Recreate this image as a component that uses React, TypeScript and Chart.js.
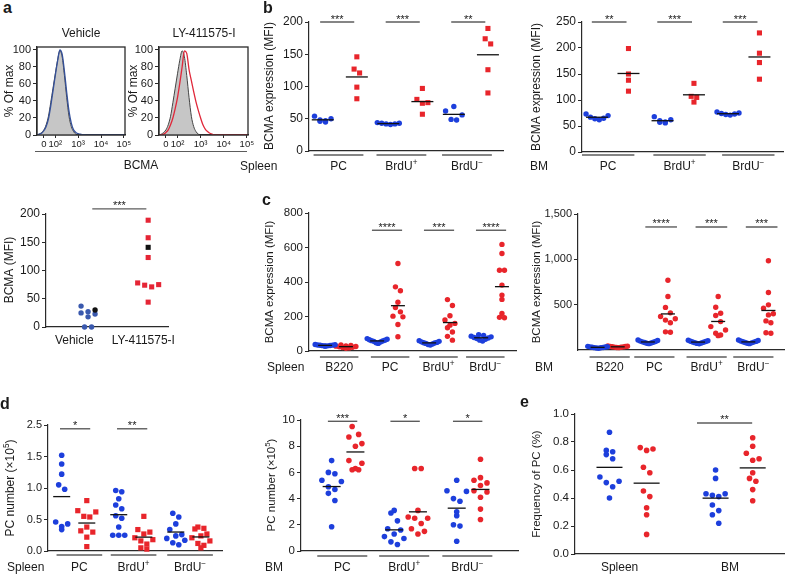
import React, { useEffect, useRef } from 'react';
import { Chart, registerables } from 'chart.js';

Chart.register(...registerables);

const FONT = '"Liberation Sans", Arial, Helvetica, sans-serif';
const BLUE = '#1d3fdc';
const RED = '#e8252b';
const A_BLUE = '#3a59ae';
const A_RED = '#e52535';
const AXIS = '#2a2a2a';
const GREY = '#5c5c5c';
const TEXT = '#1a1a1a';

// ---------------- data ----------------
// panel a — histograms (x in decades of BCMA fluorescence)
const histPos = [1.2, 1.3, 1.4, 1.5, 1.6, 1.7, 1.8, 1.9, 2.0, 2.1, 2.2, 2.3, 2.4, 2.5, 2.6, 2.7, 2.8, 2.9, 3.0, 3.1, 3.2, 3.3, 3.4, 3.5, 3.6, 5.05];
const histControl = [0, 1, 3, 6, 12, 22, 38, 55, 72, 88, 99, 92, 70, 44, 22, 10, 4, 1, 0, 0, 0, 0, 0, 0, 0, 0];
const histVehicle = [0, 1, 2, 5, 10, 19, 34, 52, 70, 87, 100, 95, 75, 50, 28, 14, 6, 3, 1.5, 1, 0.5, 0.5, 0, 0, 0, 0];
const histLY = [0, 0, 1, 3, 6, 12, 20, 31, 44, 61, 80, 99, 96, 77, 64, 51, 39, 29, 20, 12, 7, 4, 2, 1, 0, 0];
const histTickPos = [1.5, 2, 3, 4, 5];
const histTickLabels = ['0', '10²', '10³', '10⁴', '10⁵'];
const histYTicks = [0, 20, 40, 60, 80, 100];

// panel a — scatter
const aGroups = ['Vehicle', 'LY-411575-I'];
const aVehicle = [27, 37, 23, 18, 25, 0, 0];
const aVehicleBlack = [30];
const aLY = [189, 158, 123, 78, 74, 71, 75, 44];
const aLYBlack = [141];
const aYTicks = [0, 50, 100, 150, 200];
const aSig = ['***'];

// group names
const subsets3 = ['PC', 'BrdU⁺', 'BrdU⁻'];
const subsets4 = ['B220', 'PC', 'BrdU⁺', 'BrdU⁻'];

// panel b
const bSpleenBlue = [[54, 50, 48, 46, 45, 47], [44, 43, 42, 42, 43, 41], [69, 62, 56, 49, 48]];
const bSpleenRed = [[146, 121, 127, 99, 81], [97, 80, 75, 74, 57], [190, 174, 166, 126, 90]];
const bSpleenSig = ['***', '***', '**'];
const bSpleenTicks = [0, 50, 100, 150, 200];
const bBMBlue = [[73, 70, 67, 65, 62, 64], [68, 62, 58, 56, 57, 60], [77, 75, 73, 72, 71, 74]];
const bBMRed = [[199, 150, 138, 117], [132, 107, 105, 96], [229, 190, 172, 140]];
const bBMSig = ['**', '***', '***'];
const bBMTicks = [0, 50, 100, 150, 200, 250];

// panel c
const cSpleenBlue = [
  [38, 36, 35, 34, 33, 32, 31, 30, 29, 28],
  [72, 68, 65, 62, 60, 58, 56, 52, 48, 44],
  [60, 56, 53, 50, 48, 46, 44, 41, 38, 35],
  [94, 90, 86, 82, 78, 75, 72, 68, 63, 58],
];
const cSpleenRed = [
  [35, 32, 30, 28, 26, 24, 22, 20, 18, 16],
  [507, 372, 349, 283, 252, 227, 202, 198, 154, 83],
  [298, 264, 204, 180, 160, 150, 135, 110, 85, 63],
  [618, 565, 468, 468, 382, 324, 299, 218, 195, 193],
];
const cSpleenSig = ['', '****', '***', '****'];
const cSpleenTicks = [0, 200, 400, 600, 800];
const cBMBlue = [
  [40, 36, 33, 30, 28, 26, 24, 22, 20, 35],
  [110, 104, 98, 94, 90, 86, 82, 78, 74, 70],
  [108, 102, 97, 93, 89, 85, 81, 77, 73, 69],
  [110, 104, 99, 95, 91, 87, 83, 79, 75, 70],
];
const cBMRed = [
  [45, 42, 40, 38, 36, 34, 32, 30, 28, 26],
  [770, 590, 470, 410, 370, 345, 330, 300, 200, 195],
  [590, 472, 405, 380, 313, 258, 221, 184, 166, 158],
  [984, 634, 498, 461, 400, 387, 321, 300, 184, 190],
];
const cBMSig = ['', '****', '***', '***'];
const cBMTicks = [500, 1000, 1500];
const cBMTickLabels = ['500', '1,000', '1,500'];

// panel d
const dSpleenBlue = [
  [1.52, 1.38, 1.22, 1.05, 0.98, 0.46, 0.43, 0.39, 0.34],
  [0.96, 0.94, 0.83, 0.73, 0.67, 0.56, 0.52, 0.38, 0.25, 0.25, 0.25],
  [0.6, 0.54, 0.43, 0.34, 0.26, 0.24, 0.2, 0.17, 0.13, 0.1],
];
const dSpleenRed = [
  [0.8, 0.64, 0.62, 0.55, 0.54, 0.38, 0.32, 0.3, 0.22, 0.07],
  [0.55, 0.34, 0.3, 0.27, 0.21, 0.18, 0.16, 0.11, 0.05, 0.03],
  [0.38, 0.36, 0.35, 0.27, 0.24, 0.21, 0.16, 0.12, 0.09, 0.05],
];
const dSpleenSig = ['*', '**', ''];
const dSpleenTicks = [0, 0.5, 1, 1.5, 2];
const dSpleenTickLabels = ['0.0', '0.5', '1.0', '1.5', '2.5'];
const dBMBlue = [
  [6.9, 6.0, 5.9, 5.4, 5.3, 4.9, 4.7, 4.4, 3.85, 1.85],
  [3.1, 2.9, 2.3, 1.7, 1.6, 1.3, 1.1, 0.95, 0.7, 0.5],
  [5.4, 4.6, 4.55, 3.8, 3.0, 2.7, 2.0, 1.9, 0.75, 4.0],
];
const dBMRed = [
  [9.5, 8.9, 8.7, 8.2, 8.0, 6.9, 6.7, 6.3, 6.2, 6.2],
  [6.3, 6.3, 3.1, 2.6, 2.5, 2.5, 2.1, 1.7, 1.3, 1.5],
  [7.0, 5.6, 5.4, 5.2, 5.0, 4.6, 4.5, 4.1, 3.2, 2.4],
];
const dBMSig = ['***', '*', '*'];
const dBMTicks = [0, 2, 4, 6, 8, 10];

// panel e
const eGroups = ['Spleen', 'BM'];
const eBlue = [
  [0.87, 0.74, 0.71, 0.73, 0.68, 0.55, 0.51, 0.52, 0.48, 0.4],
  [0.6, 0.54, 0.43, 0.42, 0.43, 0.41, 0.35, 0.31, 0.28, 0.22],
];
const eRed = [
  [0.76, 0.74, 0.75, 0.62, 0.58, 0.45, 0.41, 0.33, 0.28, 0.14],
  [0.83, 0.77, 0.72, 0.68, 0.67, 0.58, 0.54, 0.52, 0.46, 0.38],
];
const eSig = ['', '**'];
const eTicks = [0, 0.2, 0.4, 0.6, 0.8, 1.0];
const eTickLabels = ['0.0', '0.2', '0.4', '0.6', '0.8', '1.0'];

// ---------------- layout types ----------------
type Rect = { x: number; y: number; w: number; h: number };
type Area = { l: number; t: number; r: number; b: number };
type SeriesCfg = { data: number[][]; color: string; shape: 'circle' | 'rect'; r: number; dx: number; mean?: boolean };
type DotCfg = {
  kind: 'dot';
  rect: Rect; area: Area;
  yMin: number; yMax: number; yTicks: number[]; yLabels?: string[];
  xMin: number; xMax: number;
  groups: string[]; groupDx: number[]; labelY: number;
  underlineY?: number; underlineHalf?: number;
  region?: { text: string; x: number; y: number };
  sig: string[]; sigY: number; sigFrom: number; sigTo: number; sigSpans?: [number, number][];
  meanHalf?: number;
  series: SeriesCfg[];
  binH: number; stepX: number; maxW: number;
  yTitle: string; yTitleX: number; yTitleY: number;
  tickFont: number; labelFont: number; titleFont: number;
};
type HistCfg = {
  kind: 'hist';
  rect: Rect; area: Area;
  title: string; titleX: number; titleY: number;
  yTitle: string; yTitleX: number; yTitleY: number;
  lines: { data: number[]; color: string; fill: boolean }[];
};
type PanelCfg = DotCfg | HistCfg;

const SUP: Record<string, string> = { '⁺': '+', '⁻': '−', '⁵': '5', '²': '2', '³': '3', '⁴': '4' };

function drawRich(ctx: CanvasRenderingContext2D, text: string, x: number, y: number, size: number, align: 'center' | 'left') {
  const runs: { t: string; sup: boolean }[] = [];
  for (const ch of Array.from(text)) {
    const sup = ch in SUP;
    const c = sup ? SUP[ch] : ch;
    const last = runs[runs.length - 1];
    if (last && last.sup === sup) last.t += c;
    else runs.push({ t: c, sup });
  }
  const fontOf = (sup: boolean) => `${sup ? size * 0.68 : size}px ${FONT}`;
  let total = 0;
  const ws = runs.map((r) => {
    ctx.font = fontOf(r.sup);
    const w = ctx.measureText(r.t).width;
    total += w;
    return w;
  });
  let cx = align === 'center' ? x - total / 2 : x;
  ctx.textAlign = 'left';
  ctx.textBaseline = 'middle';
  ctx.fillStyle = TEXT;
  runs.forEach((r, i) => {
    ctx.font = fontOf(r.sup);
    ctx.fillText(r.t, cx, r.sup ? y - size * 0.32 : y);
    cx += ws[i];
  });
}

function drawRotated(ctx: CanvasRenderingContext2D, text: string, x: number, y: number, size: number) {
  ctx.save();
  ctx.translate(x, y);
  ctx.rotate(-Math.PI / 2);
  drawRich(ctx, text, 0, 0, size, 'center');
  ctx.restore();
}

function seg(ctx: CanvasRenderingContext2D, x0: number, y0: number, x1: number, y1: number) {
  ctx.beginPath();
  ctx.moveTo(x0, y0);
  ctx.lineTo(x1, y1);
  ctx.stroke();
}

// Prism-like scatter-dot layout: points in the same value band are spread side by side.
function swarmOffsets(ypx: number[], binH: number, stepX: number, maxW: number): number[] {
  const bins = new Map<number, number[]>();
  ypx.forEach((y, i) => {
    const b = Math.round(y / binH);
    if (!bins.has(b)) bins.set(b, []);
    bins.get(b)!.push(i);
  });
  const off = new Array(ypx.length).fill(0);
  bins.forEach((idx) => {
    const n = idx.length;
    if (n < 2) return;
    const st = Math.min(stepX, maxW / (n - 1));
    const sorted = [...idx].sort((a, b) => ypx[b] - ypx[a]);
    const slots: number[] = [];
    for (let lo = 0, hi = n - 1; lo <= hi; lo++, hi--) {
      slots.push(lo);
      if (hi !== lo) slots.push(hi);
    }
    sorted.forEach((i, k) => {
      off[i] = (slots[k] - (n - 1) / 2) * st;
    });
  });
  return off;
}

function yScale(cfg: { rect: Rect; area: Area }, min: number, max: number, ticks: number[], labels: string[] | undefined, fontSize: number) {
  return {
    type: 'linear',
    min,
    max,
    afterBuildTicks: (ax: any) => {
      ax.ticks = ticks.map((v) => ({ value: v }));
    },
    ticks: {
      autoSkip: false,
      callback: (v: any, i: number) => (labels ? labels[i] : String(v)),
      font: { family: FONT, size: fontSize },
      color: TEXT,
      padding: 2,
    },
    grid: { display: true, drawOnChartArea: false, drawTicks: true, tickLength: 4, color: AXIS, lineWidth: 1 },
    border: { display: true, color: AXIS, width: 1.2 },
    afterFit: (s: any) => {
      s.width = cfg.area.l - cfg.rect.x;
    },
  };
}

function makeDot(canvas: HTMLCanvasElement, cfg: DotCfg) {
  const pxX = (cfg.area.r - cfg.area.l) / (cfg.xMax - cfg.xMin);
  const pxY = (cfg.area.b - cfg.area.t) / (cfg.yMax - cfg.yMin);
  const offs: number[][][] = cfg.series.map((s) => s.data.map((arr) => arr.map(() => 0)));
  const buckets = new Map<string, { si: number; gi: number; vi: number; y: number }[]>();
  cfg.series.forEach((s, si) =>
    s.data.forEach((arr, gi) =>
      arr.forEach((v, vi) => {
        const key = gi + '|' + s.dx;
        if (!buckets.has(key)) buckets.set(key, []);
        buckets.get(key)!.push({ si, gi, vi, y: (v - cfg.yMin) * pxY });
      })
    )
  );
  buckets.forEach((list) => {
    const o = swarmOffsets(list.map((p) => p.y), cfg.binH, cfg.stepX, cfg.maxW);
    list.forEach((p, k) => {
      offs[p.si][p.gi][p.vi] = o[k];
    });
  });
  const datasets = cfg.series.map((s, si) => ({
    type: 'scatter',
    data: s.data.flatMap((arr, gi) => arr.map((v, vi) => ({ x: gi + s.dx + offs[si][gi][vi] / pxX, y: v }))),
    pointStyle: s.shape,
    pointRadius: s.r,
    pointBackgroundColor: s.color,
    pointBorderColor: s.color,
    pointBorderWidth: 0,
    backgroundColor: s.color,
    borderColor: s.color,
    showLine: false,
    clip: false,
  }));

  const plugin = {
    id: 'dotExtras',
    afterDatasetsDraw(chart: any) {
      const ctx: CanvasRenderingContext2D = chart.ctx;
      const xs = chart.scales.x;
      const ys = chart.scales.y;
      const ox = cfg.rect.x;
      const oy = cfg.rect.y;
      ctx.save();
      // mean lines
      if (cfg.meanHalf) {
        ctx.strokeStyle = '#111';
        ctx.lineWidth = 1.3;
        cfg.series.forEach((s) => {
          if (s.mean === false) return;
          s.data.forEach((arr, g) => {
            if (!arr.length) return;
            const m = arr.reduce((a, b) => a + b, 0) / arr.length;
            const cx = xs.getPixelForValue(g + s.dx);
            const py = ys.getPixelForValue(m);
            seg(ctx, cx - cfg.meanHalf!, py, cx + cfg.meanHalf!, py);
          });
        });
      }
      // significance bars
      ctx.strokeStyle = GREY;
      ctx.lineWidth = 1.4;
      cfg.sig.forEach((t, g) => {
        if (!t) return;
        const span = cfg.sigSpans ? cfg.sigSpans[g] : [g + cfg.sigFrom, g + cfg.sigTo];
        const x0 = xs.getPixelForValue(span[0]);
        const x1 = xs.getPixelForValue(span[1]);
        const py = ys.getPixelForValue(cfg.sigY);
        seg(ctx, x0, py, x1, py);
        ctx.fillStyle = TEXT;
        ctx.font = `11px ${FONT}`;
        ctx.textAlign = 'center';
        ctx.textBaseline = 'alphabetic';
        ctx.fillText(t, (x0 + x1) / 2, py + 0.5);
      });
      // group underlines
      if (cfg.underlineY !== undefined && cfg.underlineHalf) {
        ctx.strokeStyle = GREY;
        ctx.lineWidth = 1.6;
        cfg.groups.forEach((_, g) => {
          const c = g + cfg.groupDx[g];
          seg(ctx, xs.getPixelForValue(c - cfg.underlineHalf!), cfg.underlineY! - oy, xs.getPixelForValue(c + cfg.underlineHalf!), cfg.underlineY! - oy);
        });
      }
      // group labels
      cfg.groups.forEach((name, g) => {
        drawRich(ctx, name, xs.getPixelForValue(g + cfg.groupDx[g]), cfg.labelY - oy, cfg.labelFont, 'center');
      });
      if (cfg.region) drawRich(ctx, cfg.region.text, cfg.region.x - ox, cfg.region.y - oy, cfg.labelFont, 'left');
      drawRotated(ctx, cfg.yTitle, cfg.yTitleX - ox, cfg.yTitleY - oy, cfg.titleFont);
      ctx.restore();
    },
  };

  return new Chart(canvas, {
    type: 'scatter',
    data: { datasets } as any,
    options: {
      animation: false,
      responsive: false,
      maintainAspectRatio: false,
      events: [],
      layout: { padding: { left: 0, top: cfg.area.t - cfg.rect.y, right: cfg.rect.x + cfg.rect.w - cfg.area.r, bottom: 0 } },
      plugins: { legend: { display: false }, tooltip: { enabled: false } },
      scales: {
        x: {
          type: 'linear',
          min: cfg.xMin,
          max: cfg.xMax,
          grid: { display: false },
          ticks: { display: false },
          border: { display: true, color: AXIS, width: 1.2 },
          afterFit: (s: any) => {
            s.height = cfg.rect.y + cfg.rect.h - cfg.area.b;
          },
        },
        y: yScale(cfg, cfg.yMin, cfg.yMax, cfg.yTicks, cfg.yLabels, cfg.tickFont),
      } as any,
    },
    plugins: [plugin],
  } as any);
}

function makeHist(canvas: HTMLCanvasElement, cfg: HistCfg) {
  const plugin = {
    id: 'histExtras',
    afterDraw(chart: any) {
      const ctx: CanvasRenderingContext2D = chart.ctx;
      const a = chart.chartArea;
      ctx.save();
      ctx.strokeStyle = AXIS;
      ctx.lineWidth = 1.3;
      ctx.strokeRect(a.left, a.top, a.right - a.left, a.bottom - a.top);
      drawRich(ctx, cfg.title, cfg.titleX - cfg.rect.x, cfg.titleY - cfg.rect.y, 12, 'center');
      drawRotated(ctx, cfg.yTitle, cfg.yTitleX - cfg.rect.x, cfg.yTitleY - cfg.rect.y, 12);
      ctx.restore();
    },
  };
  return new Chart(canvas, {
    type: 'line',
    data: {
      datasets: cfg.lines.map((l) => ({
        data: histPos.map((x, i) => ({ x, y: l.data[i] })),
        borderColor: l.color,
        backgroundColor: l.fill ? '#c6c6c6' : 'transparent',
        fill: l.fill ? 'origin' : false,
        pointRadius: 0,
        borderWidth: l.fill ? 1 : 1.3,
        cubicInterpolationMode: 'monotone',
      })),
    } as any,
    options: {
      animation: false,
      responsive: false,
      maintainAspectRatio: false,
      events: [],
      layout: { padding: { left: 0, top: cfg.area.t - cfg.rect.y, right: cfg.rect.x + cfg.rect.w - cfg.area.r, bottom: 0 } },
      plugins: { legend: { display: false }, tooltip: { enabled: false } },
      scales: {
        x: {
          type: 'linear',
          min: 1.2,
          max: 5.05,
          afterBuildTicks: (ax: any) => {
            ax.ticks = histTickPos.map((v) => ({ value: v }));
          },
          ticks: {
            autoSkip: false,
            maxRotation: 0,
            callback: (_v: any, i: number) => histTickLabels[i],
            font: { family: FONT, size: 9.5 },
            color: TEXT,
            padding: 1,
          },
          grid: { display: true, drawOnChartArea: false, drawTicks: true, tickLength: 3, color: AXIS },
          border: { display: true, color: AXIS, width: 1.2 },
          afterFit: (s: any) => {
            s.height = cfg.rect.y + cfg.rect.h - cfg.area.b;
          },
        },
        y: yScale(cfg, 0, 103.5, histYTicks, undefined, 11),
      } as any,
    },
    plugins: [plugin],
  } as any);
}

// ---------------- panels ----------------
const PANELS: PanelCfg[] = [
  {
    kind: 'hist', rect: { x: 0, y: 25, w: 136, h: 130 }, area: { l: 37, t: 47, r: 125, b: 135 },
    title: 'Vehicle', titleX: 81, titleY: 34, yTitle: '% Of max', yTitleX: 10, yTitleY: 91,
    lines: [{ data: histVehicle, color: '#34509a', fill: false }, { data: histControl, color: '#444', fill: true }],
  },
  {
    kind: 'hist', rect: { x: 126, y: 25, w: 134, h: 130 }, area: { l: 159, t: 47, r: 248, b: 135 },
    title: 'LY-411575-I', titleX: 204, titleY: 34, yTitle: '% Of max', yTitleX: 134, yTitleY: 91,
    lines: [{ data: histLY, color: '#e0283a', fill: false }, { data: histControl, color: '#444', fill: true }],
  },
  {
    kind: 'dot', rect: { x: 0, y: 190, w: 178, h: 160 }, area: { l: 46, t: 214, r: 168, b: 327 },
    yMin: 0, yMax: 200, yTicks: aYTicks, xMin: -0.7, xMax: 1.33,
    groups: aGroups, groupDx: [-0.23, -0.08], labelY: 341,
    sig: aSig, sigY: 209, sigFrom: 0, sigTo: 0, sigSpans: [[0.07, 0.97]],
    series: [
      { data: [[], aLYBlack], color: '#111', shape: 'rect', r: 3.6, dx: 0 },
      { data: [aVehicleBlack, []], color: '#111', shape: 'circle', r: 2.7, dx: 0 },
      { data: [aVehicle, []], color: A_BLUE, shape: 'circle', r: 2.7, dx: 0 },
      { data: [[], aLY], color: A_RED, shape: 'rect', r: 3.6, dx: 0 },
    ],
    binH: 6, stepX: 7, maxW: 30, yTitle: 'BCMA (MFI)', yTitleX: 10, yTitleY: 270,
    tickFont: 12, labelFont: 12, titleFont: 12,
  },
  {
    kind: 'dot', rect: { x: 240, y: 0, w: 268, h: 178 }, area: { l: 309, t: 22, r: 503, b: 151 },
    yMin: 0, yMax: 200, yTicks: bSpleenTicks, xMin: -0.47, xMax: 2.49,
    groups: subsets3, groupDx: [-0.02, -0.06, -0.06], labelY: 167, underlineY: 155, underlineHalf: 0.38,
    region: { text: 'Spleen', x: 240, y: 167 },
    sig: bSpleenSig, sigY: 200, sigFrom: -0.3, sigTo: 0.22, meanHalf: 11,
    series: [
      { data: bSpleenBlue, color: BLUE, shape: 'circle', r: 2.7, dx: -0.26 },
      { data: bSpleenRed, color: RED, shape: 'rect', r: 3.6, dx: 0.26 },
    ],
    binH: 12, stepX: 5.5, maxW: 22, yTitle: 'BCMA expression (MFI)', yTitleX: 270, yTitleY: 86,
    tickFont: 12, labelFont: 12, titleFont: 12,
  },
  {
    kind: 'dot', rect: { x: 528, y: 0, w: 260, h: 178 }, area: { l: 582, t: 22, r: 783, b: 152 },
    yMin: 0, yMax: 250, yTicks: bBMTicks, xMin: -0.47, xMax: 2.6,
    groups: subsets3, groupDx: [-0.07, 0.02, 0.07], labelY: 167, underlineY: 155, underlineHalf: 0.4,
    region: { text: 'BM', x: 530, y: 167 },
    sig: bBMSig, sigY: 250, sigFrom: -0.32, sigTo: 0.21, meanHalf: 11,
    series: [
      { data: bBMBlue, color: BLUE, shape: 'circle', r: 2.7, dx: -0.24 },
      { data: bBMRed, color: RED, shape: 'rect', r: 3.6, dx: 0.24 },
    ],
    binH: 12, stepX: 5.5, maxW: 22, yTitle: 'BCMA expression (MFI)', yTitleX: 537, yTitleY: 87,
    tickFont: 12, labelFont: 12, titleFont: 12,
  },
  {
    kind: 'dot', rect: { x: 240, y: 190, w: 280, h: 185 }, area: { l: 309, t: 213, r: 517, b: 351 },
    yMin: 0, yMax: 800, yTicks: cSpleenTicks, xMin: -0.51, xMax: 3.47,
    groups: subsets4, groupDx: [0.07, 0.05, -0.02, -0.12], labelY: 368, underlineY: 357, underlineHalf: 0.37,
    region: { text: 'Spleen', x: 267, y: 368 },
    sig: cSpleenSig, sigY: 700, sigFrom: -0.3, sigTo: 0.28, meanHalf: 7,
    series: [
      { data: cSpleenBlue, color: BLUE, shape: 'circle', r: 2.7, dx: -0.2 },
      { data: cSpleenRed, color: RED, shape: 'circle', r: 2.7, dx: 0.2 },
    ],
    binH: 10, stepX: 5, maxW: 20, yTitle: 'BCMA expression (MFI)', yTitleX: 270, yTitleY: 282,
    tickFont: 11.5, labelFont: 12, titleFont: 11.5,
  },
  {
    kind: 'dot', rect: { x: 528, y: 190, w: 260, h: 185 }, area: { l: 578, t: 214, r: 788, b: 350 },
    yMin: 0, yMax: 1500, yTicks: cBMTicks, yLabels: cBMTickLabels, xMin: -0.59, xMax: 3.51,
    groups: subsets4, groupDx: [0.04, -0.07, -0.03, -0.1], labelY: 368, underlineY: 357, underlineHalf: 0.4,
    region: { text: 'BM', x: 535, y: 368 },
    sig: cBMSig, sigY: 1357, sigFrom: -0.25, sigTo: 0.38, meanHalf: 7,
    series: [
      { data: cBMBlue, color: BLUE, shape: 'circle', r: 2.7, dx: -0.2 },
      { data: cBMRed, color: RED, shape: 'circle', r: 2.7, dx: 0.2 },
    ],
    binH: 10, stepX: 5, maxW: 20, yTitle: 'BCMA expression (MFI)', yTitleX: 537, yTitleY: 282,
    tickFont: 11, labelFont: 12, titleFont: 11.5,
  },
  {
    kind: 'dot', rect: { x: 0, y: 400, w: 230, h: 175 }, area: { l: 48, t: 425, r: 222, b: 551 },
    yMin: 0, yMax: 2, yTicks: dSpleenTicks, yLabels: dSpleenTickLabels, xMin: -0.46, xMax: 2.59,
    groups: subsets3, groupDx: [0.09, 0.04, 0.03], labelY: 568, underlineY: 555, underlineHalf: 0.4,
    region: { text: 'Spleen', x: 7, y: 568 },
    sig: dSpleenSig, sigY: 1.94, sigFrom: -0.25, sigTo: 0.28, meanHalf: 8.5,
    series: [
      { data: dSpleenBlue, color: BLUE, shape: 'circle', r: 2.8, dx: -0.22 },
      { data: dSpleenRed, color: RED, shape: 'rect', r: 3.7, dx: 0.22 },
    ],
    binH: 9, stepX: 6, maxW: 20, yTitle: 'PC number (×10⁵)', yTitleX: 11, yTitleY: 488,
    tickFont: 11, labelFont: 12, titleFont: 12,
  },
  {
    kind: 'dot', rect: { x: 258, y: 400, w: 265, h: 175 }, area: { l: 301, t: 420, r: 518, b: 551 },
    yMin: 0, yMax: 10, yTicks: dBMTicks, xMin: -0.68, xMax: 2.79,
    groups: subsets3, groupDx: [-0.02, -0.03, -0.02], labelY: 568, underlineY: 556, underlineHalf: 0.4,
    region: { text: 'BM', x: 265, y: 568 },
    sig: dBMSig, sigY: 9.9, sigFrom: -0.25, sigTo: 0.22, meanHalf: 9,
    series: [
      { data: dBMBlue, color: BLUE, shape: 'circle', r: 2.8, dx: -0.19 },
      { data: dBMRed, color: RED, shape: 'circle', r: 2.8, dx: 0.19 },
    ],
    binH: 11, stepX: 6.5, maxW: 24, yTitle: 'PC number (×10⁵)', yTitleX: 272, yTitleY: 485,
    tickFont: 11.5, labelFont: 12, titleFont: 11.5,
  },
  {
    kind: 'dot', rect: { x: 525, y: 398, w: 263, h: 177 }, area: { l: 575, t: 414, r: 788, b: 554 },
    yMin: 0, yMax: 1, yTicks: eTicks, yLabels: eTickLabels, xMin: -0.5, xMax: 1.47,
    groups: eGroups, groupDx: [-0.08, -0.04], labelY: 568,
    sig: eSig, sigY: 0.936, sigFrom: -0.35, sigTo: 0.17, meanHalf: 13,
    series: [
      { data: eBlue, color: BLUE, shape: 'circle', r: 2.8, dx: -0.175 },
      { data: eRed, color: RED, shape: 'circle', r: 2.8, dx: 0.175 },
    ],
    binH: 12, stepX: 6.5, maxW: 40, yTitle: 'Frequency of PC (%)', yTitleX: 537, yTitleY: 484,
    tickFont: 11.5, labelFont: 12, titleFont: 11.5,
  },
];

const LETTERS = [
  { t: 'a', x: 3, y: 0 },
  { t: 'b', x: 263, y: 0 },
  { t: 'c', x: 262, y: 192 },
  { t: 'd', x: 0, y: 396 },
  { t: 'e', x: 520, y: 394 },
];

export default function App() {
  const refs = useRef<(HTMLCanvasElement | null)[]>([]);
  useEffect(() => {
    const charts = PANELS.map((p, i) => {
      const c = refs.current[i]!;
      return p.kind === 'dot' ? makeDot(c, p) : makeHist(c, p);
    });
    return () => charts.forEach((c) => c.destroy());
  }, []);
  return (
    <div style={{ position: 'fixed', left: 0, top: 0, width: 788, height: 575, background: '#fff', fontFamily: FONT, overflow: 'hidden', color: TEXT }}>
      {PANELS.map((p, i) => (
        <canvas
          key={i}
          ref={(el) => {
            refs.current[i] = el;
          }}
          width={p.rect.w}
          height={p.rect.h}
          style={{ position: 'absolute', left: p.rect.x, top: p.rect.y, width: p.rect.w, height: p.rect.h }}
        />
      ))}
      <div style={{ position: 'absolute', left: 35, top: 151, width: 212, height: 0, borderTop: `1.6px solid ${GREY}` }} />
      <div style={{ position: 'absolute', left: 101, top: 158, width: 80, textAlign: 'center', fontSize: 12, lineHeight: '14px' }}>BCMA</div>
      {LETTERS.map((l) => (
        <div key={l.t} style={{ position: 'absolute', left: l.x, top: l.y, fontSize: 16, fontWeight: 'bold', lineHeight: '16px' }}>
          {l.t}
        </div>
      ))}
    </div>
  );
}
